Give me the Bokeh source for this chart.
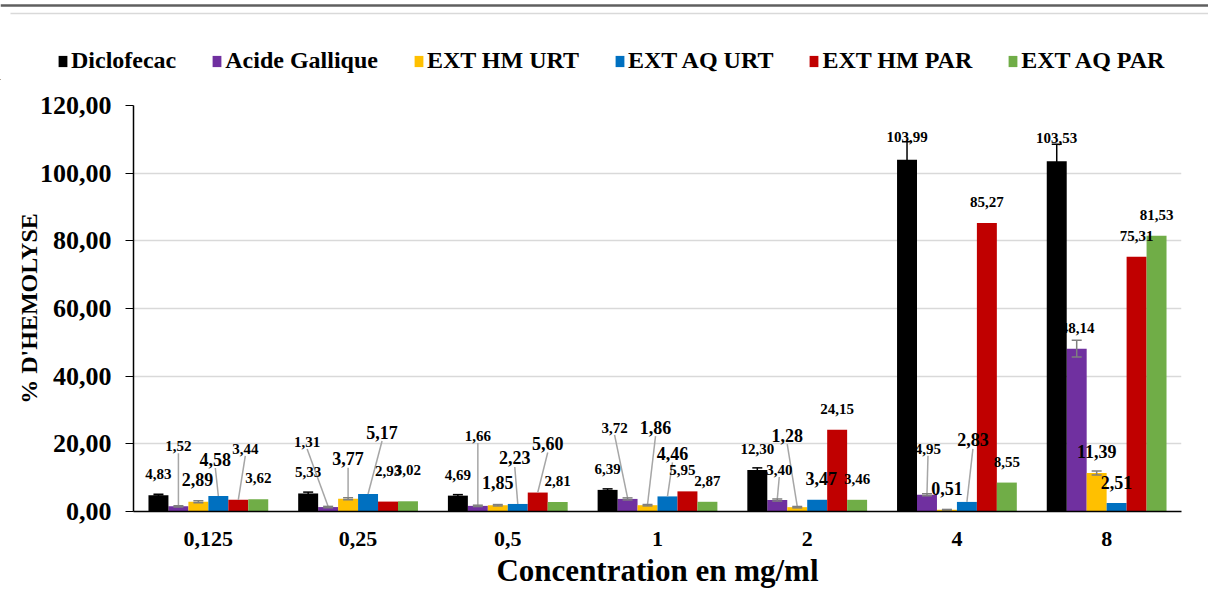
from bokeh.plotting import figure
from bokeh.layouts import column
from bokeh.models import (FactorRange, Range1d, ColumnDataSource, Legend, LegendItem,
                          CustomJSTickFormatter)
from bokeh.transform import dodge
from bokeh.core.properties import value
from bokeh.embed import file_html
from bokeh.resources import INLINE

# ---------------- data ----------------
concentrations = ["0,125", "0,25", "0,5", "1", "2", "4", "8"]
series_names = ["Diclofecac", "Acide Gallique", "EXT HM URT", "EXT AQ URT", "EXT HM PAR", "EXT AQ PAR"]
diclofecac = [4.83, 5.33, 4.69, 6.39, 12.30, 103.99, 103.53]
acide_gallique = [1.52, 1.31, 1.66, 3.72, 3.40, 4.95, 48.14]
ext_hm_urt = [2.89, 3.77, 1.85, 1.86, 1.28, 0.51, 11.39]
ext_aq_urt = [4.58, 5.17, 2.23, 4.46, 3.47, 2.83, 2.51]
ext_hm_par = [3.44, 2.93, 5.60, 5.95, 24.15, 85.27, 75.31]
ext_aq_par = [3.62, 3.02, 2.81, 2.87, 3.46, 8.55, 81.53]
err_diclofecac = [0.3, 0.4, 0.3, 0.3, 0.6, 5.3, 5.0]
err_acide_gallique = [0.2, 0.2, 0.2, 0.3, 0.3, 0.3, 2.5]
err_ext_hm_urt = [0.3, 0.3, 0.2, 0.2, 0.2, 0.1, 0.6]
y_ticks = [0, 20, 40, 60, 80, 100, 120]

series_values = [diclofecac, acide_gallique, ext_hm_urt, ext_aq_urt, ext_hm_par, ext_aq_par]
series_errors = [err_diclofecac, err_acide_gallique, err_ext_hm_urt, None, None, None]

# ---------------- style ----------------
colors = ["#000000", "#7030A0", "#FFC000", "#0070C0", "#C00000", "#70AD47"]
err_colors = ["#000000", "#7F7F7F", "#7F7F7F", "#7F7F7F", "#7F7F7F", "#7F7F7F"]
FONT = "Liberation Serif"
PAGE_W = 1208
FRAME_W, FRAME_H = 1048, 406
LEG_H = 80
Y_MAX = 120
n_series = len(series_names)
bar_w = 0.8 / n_series
px_per_factor = FRAME_W / len(concentrations)
px_per_unit = FRAME_H / Y_MAX

# label placement (pixel offsets of label centre from the top-centre of its bar)
label_shift = {
    (2, 0): (-1, -22), (1, 0): (0, -60), (3, 0): (-3, -37), (4, 0): (7, -51),
    (1, 1): (-21, -65), (2, 1): (0, -40), (3, 1): (14, -62), (4, 1): (0, -31), (5, 1): (0, -31),
    (1, 2): (0, -70), (2, 2): (0, -23), (3, 2): (-3, -46), (4, 2): (10, -49),
    (1, 3): (-13, -71), (2, 3): (8, -78), (3, 3): (5, -43), (4, 3): (-5, -21),
    (1, 4): (2, -30), (2, 4): (-10, -72), (3, 4): (4, -21),
    (0, 5): (0, -23), (1, 5): (1, -46), (3, 5): (6, -62),
    (0, 6): (0, -23), (1, 6): (1, -21),
}
leaders = {(1, 0), (3, 0), (4, 0), (1, 1), (2, 1), (3, 1), (1, 2), (3, 2), (4, 2),
           (1, 3), (2, 3), (3, 3), (1, 4), (2, 4), (1, 5), (3, 5)}
big_labels = {(2, 0), (3, 0), (2, 1), (3, 1), (2, 2), (3, 2), (4, 2), (2, 3), (3, 3),
              (2, 4), (3, 4), (2, 5), (3, 5), (2, 6), (3, 6)}

# ---------------- legend strip ----------------
leg = figure(width=PAGE_W, height=LEG_H, x_range=Range1d(0, PAGE_W), y_range=Range1d(0, LEG_H),
             x_axis_type=None, y_axis_type=None, output_backend="svg", toolbar_location=None,
             min_border=0)
leg.frame_align = False
leg.outline_line_color = None
leg.xgrid.grid_line_color = None
leg.ygrid.grid_line_color = None
# page decoration: dark rule above, light chart-area border
leg.segment(x0=[0], y0=[LEG_H - 5], x1=[PAGE_W], y1=[LEG_H - 5], line_color="#5F5F5F", line_width=2.5)
leg.segment(x0=[10], y0=[LEG_H - 13], x1=[PAGE_W], y1=[LEG_H - 13], line_color="#D9D9D9", line_width=1.5)
# off-screen swatch renderers (only their style is used by the legend)
leg_renderers = [leg.vbar(x=[-500], top=[1], width=1, fill_color=colors[i], line_color=None)
                 for i in range(n_series)]
legend = Legend(items=[LegendItem(label=series_names[i], renderers=[leg_renderers[i]]) for i in range(n_series)],
                orientation="horizontal", location=(57, 6),
                label_text_font=FONT, label_text_font_style="bold", label_text_font_size="24px",
                label_text_color="black", glyph_width=11, glyph_height=14, label_standoff=3,
                spacing=35, padding=0, margin=0, border_line_color=None, background_fill_alpha=0)
leg.add_layout(legend)

# ---------------- main chart ----------------
p = figure(x_range=FactorRange(*concentrations, range_padding=0, factor_padding=0),
           y_range=Range1d(0, Y_MAX),
           frame_width=FRAME_W, frame_height=FRAME_H,
           output_backend="svg", toolbar_location=None,
           min_border_left=133, min_border_right=27, min_border_top=105 - LEG_H, min_border_bottom=78)
p.frame_align = False
p.outline_line_color = None
p.background_fill_color = "white"
p.border_fill_color = "white"

p.xgrid.grid_line_color = None
p.ygrid.grid_line_color = "#D9D9D9"
p.ygrid.grid_line_width = 1.5
p.yaxis.ticker = y_ticks
p.yaxis.formatter = CustomJSTickFormatter(code="return tick.toFixed(2).replace('.', ',');")
for ax in (p.xaxis[0], p.yaxis[0]):
    ax.axis_line_color = "black"
    ax.axis_line_width = 1.5
    ax.major_label_text_font = FONT
    ax.major_label_text_font_style = "bold"
    ax.major_label_text_color = "black"
    ax.axis_label_text_font = FONT
    ax.axis_label_text_font_style = "bold"
    ax.axis_label_text_color = "black"
    ax.minor_tick_line_color = None
p.yaxis.major_tick_in = 0
p.yaxis.major_tick_out = 8
p.yaxis.major_tick_line_color = "black"
p.yaxis.major_label_text_font_size = "26px"
p.yaxis.major_label_standoff = 14
p.yaxis.axis_label = "% D'HEMOLYSE"
p.yaxis.axis_label_text_font_size = "24px"
p.yaxis.axis_label_standoff = -5
p.xaxis.major_tick_line_color = None
p.xaxis.major_label_text_font_size = "22px"
p.xaxis.major_label_standoff = 14
p.xaxis.axis_label = "Concentration en mg/ml"
p.xaxis.axis_label_text_font_size = "31px"
p.xaxis.axis_label_standoff = 4

offsets = [(i - (n_series - 1) / 2) * bar_w for i in range(n_series)]


def draw_bars(i):
    src = ColumnDataSource(dict(conc=concentrations, val=series_values[i]))
    p.vbar(x=dodge("conc", offsets[i], range=p.x_range), top="val", width=bar_w,
           source=src, fill_color=colors[i], line_color=None)


for i in range(1, n_series):
    draw_bars(i)

# leader lines and value labels
lx0, ly0, lx1, ly1 = [], [], [], []
lab = {"big": dict(x=[], y=[], t=[], dx=[], dy=[]), "small": dict(x=[], y=[], t=[], dx=[], dy=[])}
for i in range(n_series):
    vals = series_values[i]
    errs = series_errors[i]
    for g, v in enumerate(vals):
        bx = g + 0.5 + offsets[i]
        dx, dy = label_shift.get((i, g), (0, -21))
        key = "big" if (i, g) in big_labels else "small"
        d = lab[key]
        d["x"].append(bx)
        d["y"].append(v)
        d["t"].append(f"{v:.2f}".replace(".", ","))
        d["dx"].append(dx)
        d["dy"].append(dy)
        if (i, g) in leaders:
            half = 9 if key == "big" else 7
            lx0.append(bx + dx / px_per_factor)
            ly0.append(v - (dy + half) / px_per_unit)
            lx1.append(bx)
            ly1.append(v + (errs[g] if errs else 0))

p.segment(x0=lx0, y0=ly0, x1=lx1, y1=ly1, line_color="#A6A6A6", line_width=1.5)
for key, size in (("small", "15px"), ("big", "18px")):
    d = lab[key]
    p.text(x=d["x"], y=d["y"], text=d["t"], x_offset=d["dx"], y_offset=d["dy"],
           text_font=value(FONT), text_font_style="bold", text_font_size=size,
           text_color="black", text_align="center", text_baseline="middle")

draw_bars(0)

# error bars
for i in range(n_series):
    errs = series_errors[i]
    if not errs:
        continue
    xs = [g + 0.5 + offsets[i] for g in range(len(concentrations))]
    lo = [v - e for v, e in zip(series_values[i], errs)]
    hi = [v + e for v, e in zip(series_values[i], errs)]
    p.segment(x0=xs, y0=lo, x1=xs, y1=hi, line_color=err_colors[i], line_width=1.5)
    p.scatter(x=xs + xs, y=lo + hi, marker="dash", size=10, line_color=err_colors[i], line_width=1.5)

open("out.html", "w").write(file_html(column(leg, p, spacing=0), INLINE))
